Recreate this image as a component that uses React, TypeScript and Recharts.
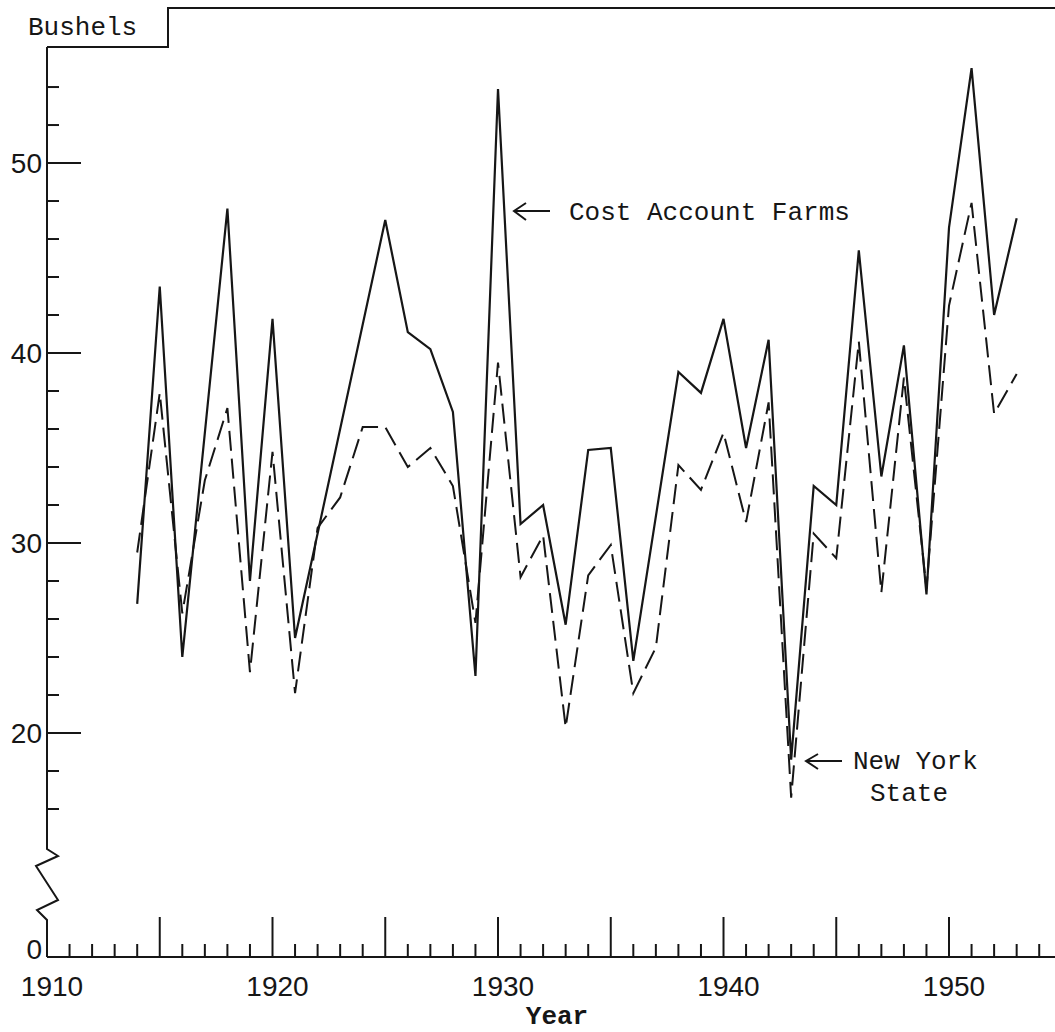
import { LineChart, Line, XAxis, YAxis } from 'recharts'

// yield per acre, bushels
const years = [
  1914, 1915, 1916, 1917, 1918, 1919, 1920, 1921, 1922, 1923,
  1924, 1925, 1926, 1927, 1928, 1929, 1930, 1931, 1932, 1933,
  1934, 1935, 1936, 1937, 1938, 1939, 1940, 1941, 1942, 1943,
  1944, 1945, 1946, 1947, 1948, 1949, 1950, 1951, 1952, 1953,
]

const costAccountFarms: (number | null)[] = [
  26.8, 43.5, 24.0, null, 47.6, 28.0, 41.8, 25.0, null, null,
  null, 47.0, 41.1, 40.2, 36.9, 23.0, 53.9, 31.0, 32.0, 25.7,
  34.9, 35.0, 23.8, null, 39.0, 37.9, 41.8, 35.0, 40.7, 18.6,
  33.0, 32.0, 45.4, 33.5, 40.4, 27.3, 46.6, 55.0, 42.0, 47.1,
]

const newYorkState = [
  29.5, 37.9, 26.3, 33.3, 37.1, 23.2, 34.8, 22.1, 30.8, 32.4,
  36.1, 36.1, 34.0, 35.0, 33.0, 25.8, 39.5, 28.2, 30.4, 20.3,
  28.3, 29.9, 22.1, 24.5, 34.1, 32.8, 35.8, 31.1, 37.4, 16.6,
  30.5, 29.2, 40.6, 27.4, 38.7, 27.6, 42.5, 47.9, 36.8, 38.9,
]

const yearTicks = Array.from({ length: 45 }, (_, i) => 1910 + i)
const yearLabels = [1910, 1920, 1930, 1940, 1950]

// broken scale: the bottom of the axis stands for 0
const axisBase = 8.21
const bushelTicks = [axisBase, 16, 18, 20, 22, 24, 26, 28, 30, 32, 34, 36, 38, 40, 42, 44, 46, 48, 50, 52, 54]
const bushelLabels = [20, 30, 40, 50]

const data = years.map((year, i) => ({
  year,
  cost: costAccountFarms[i],
  nys: newYorkState[i],
}))

const ink = '#161616'
const numFont = '"Liberation Sans", Arial, sans-serif'
const typeFont = '"Liberation Mono", "DejaVu Sans Mono", monospace'

function YearTick({ x, y, payload }: any) {
  const v = payload.value as number
  const len = v === 1910 ? 0 : v % 5 === 0 ? 40 : 13
  return (
    <g>
      {len > 0 && <line x1={x} y1={y} x2={x} y2={y - len} stroke={ink} strokeWidth={2} />}
      {yearLabels.includes(v) && (
        <text x={x + 5} y={y + 29} textAnchor="middle" dominantBaseline="central" fontFamily={numFont} fontSize={28} fill={ink}>
          {v}
        </text>
      )}
    </g>
  )
}

function BushelTick({ x, y, payload }: any) {
  const v = payload.value as number
  if (v === axisBase) {
    return (
      <text x={x - 5} y={y - 8} textAnchor="end" dominantBaseline="central" fontFamily={numFont} fontSize={28} fill={ink}>
        0
      </text>
    )
  }
  const major = bushelLabels.includes(v)
  return (
    <g>
      <line x1={x} y1={y} x2={x + (major ? 34 : 12)} y2={y} stroke={ink} strokeWidth={2} />
      {major && (
        <text x={x - 5} y={y} textAnchor="end" dominantBaseline="central" fontFamily={numFont} fontSize={28} fill={ink}>
          {v}
        </text>
      )}
    </g>
  )
}

export default function App() {
  return (
    <div style={{ position: 'absolute', left: 0, top: 0, width: 1055, height: 1032, background: '#fff' }}>
      <LineChart width={1055} height={1032} data={data} margin={{ top: 8, right: 0, bottom: 0, left: 0 }}>
        <XAxis
          dataKey="year"
          type="number"
          domain={[1910, 1954.7]}
          allowDataOverflow
          ticks={yearTicks}
          interval={0}
          height={75}
          tickSize={0}
          tickMargin={0}
          tickLine={false}
          axisLine={{ stroke: ink, strokeWidth: 2 }}
          tick={YearTick}
        />
        <YAxis
          type="number"
          domain={[axisBase, 58.16]}
          allowDataOverflow
          ticks={bushelTicks}
          interval={0}
          width={47}
          tickSize={0}
          tickMargin={0}
          tickLine={false}
          axisLine={false}
          tick={BushelTick}
        />
        <Line
          dataKey="nys"
          type="linear"
          stroke={ink}
          strokeWidth={2}
          strokeDasharray="20 8"
          dot={false}
          connectNulls
          isAnimationActive={false}
        />
        <Line
          dataKey="cost"
          type="linear"
          stroke={ink}
          strokeWidth={2.2}
          dot={false}
          connectNulls
          isAnimationActive={false}
        />
      </LineChart>

      {/* frame with the step for the unit label, broken y axis and the notes */}
      <svg width={1055} height={1032} style={{ position: 'absolute', left: 0, top: 0, pointerEvents: 'none' }}>
        <path d="M47,47 H168 V8 H1055" fill="none" stroke={ink} strokeWidth={2} />
        <path d="M47,47 V849 L58,856 L36,866 L58,900 L37,910 L47,920 V957" fill="none" stroke={ink} strokeWidth={2} />
        <text x={28} y={28} dominantBaseline="central" fontFamily={typeFont} fontSize={26} fill={ink}>
          Bushels
        </text>

        <path d="M550,211 H514 M526,203 L514,211 L526,220" fill="none" stroke={ink} strokeWidth={2} />
        <text x={569} y={213} dominantBaseline="central" fontFamily={typeFont} fontSize={26} fill={ink}>
          Cost Account Farms
        </text>

        <path d="M842,761 H806 M818,754 L806,761 L818,769" fill="none" stroke={ink} strokeWidth={2} />
        <text x={853} y={762} dominantBaseline="central" fontFamily={typeFont} fontSize={26} fill={ink}>
          New York
        </text>
        <text x={870} y={794} dominantBaseline="central" fontFamily={typeFont} fontSize={26} fill={ink}>
          State
        </text>

        <text x={557} y={1017} textAnchor="middle" dominantBaseline="central" fontFamily={typeFont} fontSize={26} fontWeight="bold" fill={ink}>
          Year
        </text>
      </svg>
    </div>
  )
}
